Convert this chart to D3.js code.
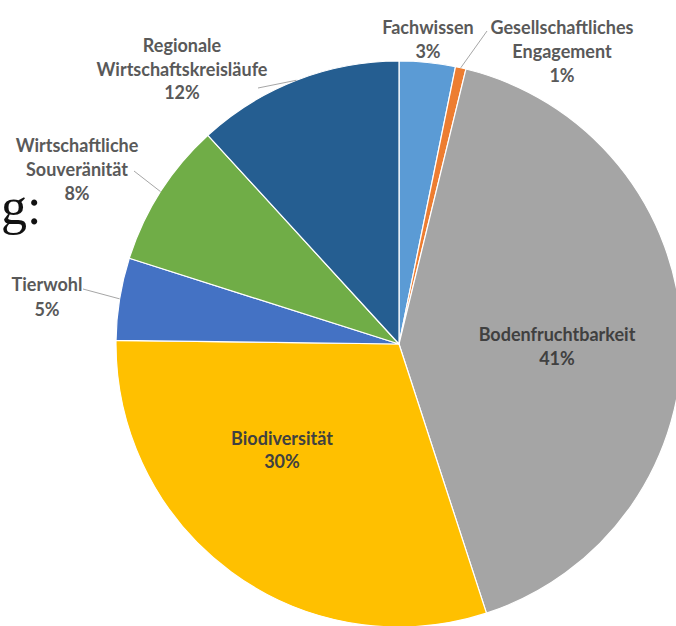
<!DOCTYPE html>
<html><head><meta charset="utf-8">
<script src="https://cdn.jsdelivr.net/npm/d3@7"></script>
<style>html,body{margin:0;padding:0;background:#fff;}svg{display:block;}</style>
</head><body>
<svg id="chart" width="676" height="626"></svg>
<script>
// Data
const categories = ["Fachwissen", "Gesellschaftliches Engagement", "Bodenfruchtbarkeit", "Biodiversität", "Tierwohl", "Wirtschaftliche Souveränität", "Regionale Wirtschaftskreisläufe"];
const labelLines = [["Fachwissen"], ["Gesellschaftliches", "Engagement"], ["Bodenfruchtbarkeit"], ["Biodiversität"], ["Tierwohl"], ["Wirtschaftliche", "Souveränität"], ["Regionale", "Wirtschaftskreisläufe"]];
const values = [3.2, 0.6, 41.2, 30.2, 4.7, 8.3, 11.8];
const colors = ["#5B9BD5", "#ED7D31", "#A5A5A5", "#FFC000", "#4472C4", "#70AD47", "#255E91"];

// Layout (styling, not data)
const cx = 399, cy = 344, R = 283;
const labelLayout = [
  {x: 428, y: 27, dy: 24, inside: false, leader: null},
  {x: 562, y: 27, dy: 24, inside: false, leader: [487, 31]},
  {x: 557, y: 334, dy: 24, inside: true, leader: null},
  {x: 282, y: 438, dy: 23, inside: true, leader: null},
  {x: 47, y: 284, dy: 25, inside: false, leader: [83, 289]},
  {x: 77, y: 145, dy: 24, inside: false, leader: [134, 171]},
  {x: 182, y: 45, dy: 23.5, inside: false, leader: [258, 88]}
];

const svg = d3.select("#chart");

// Partial slide title fragment at left edge
svg.append("text")
  .attr("x", 1).attr("y", 224)
  .attr("text-anchor", "start")
  .attr("font-family", "'Liberation Serif', 'DejaVu Serif', serif")
  .attr("font-size", 52)
  .attr("fill", "#111")
  .text("g:");

const pie = d3.pie().sort(null).value(d => d)(values);
const arc = d3.arc().innerRadius(0).outerRadius(R);

const g = svg.append("g").attr("transform", `translate(${cx},${cy})`);
g.selectAll("path").data(pie).join("path")
  .attr("d", arc)
  .attr("fill", (d, i) => colors[i])
  .attr("stroke", "#fff")
  .attr("stroke-width", 1.2)
  .attr("stroke-linejoin", "round");

// Leader lines
pie.forEach((d, i) => {
  const L = labelLayout[i];
  if (!L.leader) return;
  const a = (d.startAngle + d.endAngle) / 2;
  const ex = cx + R * Math.sin(a), ey = cy - R * Math.cos(a);
  svg.append("line")
    .attr("x1", L.leader[0]).attr("y1", L.leader[1])
    .attr("x2", ex).attr("y2", ey)
    .attr("stroke", "#A6A6A6").attr("stroke-width", 1);
});

// Labels
pie.forEach((d, i) => {
  const L = labelLayout[i];
  const lines = labelLines[i].concat([Math.round(values[i]) + "%"]);
  const t = svg.append("text")
    .attr("text-anchor", "middle")
    .attr("font-family", "Lato, 'Open Sans', sans-serif")
    .attr("font-weight", "bold")
    .attr("font-size", 18)
    .attr("fill", L.inside ? "#404040" : "#595959");
  lines.forEach((s, k) => {
    t.append("tspan")
      .attr("x", L.x)
      .attr("y", L.y + k * L.dy)
      .attr("dominant-baseline", "central")
      .text(s);
  });
});
</script>
</body></html>
